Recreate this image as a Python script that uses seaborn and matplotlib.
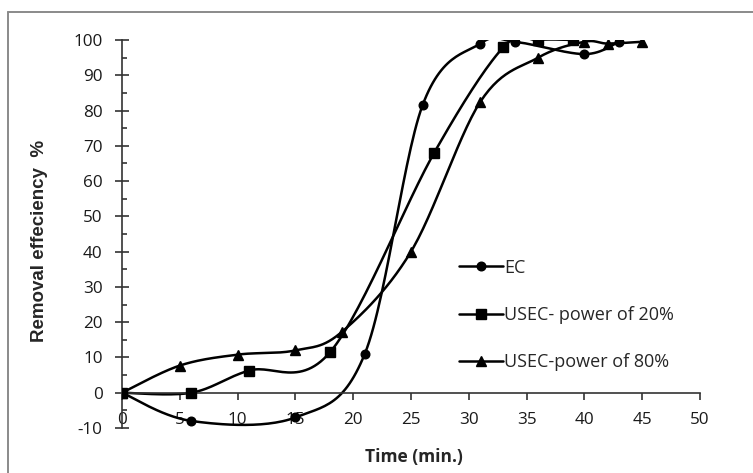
import numpy as np
import pandas as pd
import matplotlib
matplotlib.use("Agg")
import matplotlib.pyplot as plt
import seaborn as sns
from matplotlib.ticker import MultipleLocator
from matplotlib.lines import Line2D

# ---- data ----
ec_time = [0, 6, 15, 21, 26, 31, 34, 40, 43]
ec_removal = [0, -8, -7, 11, 81.5, 99, 99.5, 96, 99.5]

us20_time = [0, 6, 11, 18, 27, 33, 36, 39]
us20_removal = [0, 0, 6.3, 11.5, 68, 98, 100, 100]

us80_time = [0, 5, 10, 15, 19, 25, 31, 36, 40, 42, 45]
us80_removal = [0, 7.7, 10.8, 12, 17.2, 40, 82.5, 95, 99.5, 99, 99.5]

series_names = ["EC", "USEC- power of 20%", "USEC-power of 80%"]
series_markers = ["o", "s", "^"]
x_ticks = list(range(0, 55, 5))
y_ticks = list(range(-10, 110, 10))


def smooth(xs, ys, n=30):
    """Excel-like smoothed line (Catmull-Rom Bezier) through the points."""
    P = np.column_stack([xs, ys]).astype(float)
    out = [P[0]]
    m = len(P)
    for i in range(m - 1):
        p0 = P[i - 1] if i > 0 else P[i]
        p1 = P[i]
        p2 = P[i + 1]
        p3 = P[i + 2] if i + 2 < m else P[i + 1]
        c1 = p1 + (p2 - p0) / 6.0
        c2 = p2 - (p3 - p1) / 6.0
        t = np.linspace(0, 1, n)[1:, None]
        seg = ((1 - t) ** 3) * p1 + 3 * ((1 - t) ** 2) * t * c1 + 3 * (1 - t) * t ** 2 * c2 + t ** 3 * p2
        out.extend(seg)
    out = np.array(out)
    return out[:, 0], out[:, 1]


sns.set_style("white")
plt.rcParams["font.family"] = ["Open Sans", "DejaVu Sans"]
plt.rcParams["axes.unicode_minus"] = False

fig = plt.figure(figsize=(7.53, 4.73), dpi=100)
# outer frame (left and top edges visible)
fig.add_artist(Line2D([8 / 753, 8 / 753], [0, 1 - 12.5 / 473], transform=fig.transFigure,
                      color="#8a8a8a", lw=1.4))
fig.add_artist(Line2D([8 / 753, 1], [1 - 12.5 / 473, 1 - 12.5 / 473], transform=fig.transFigure,
                      color="#8a8a8a", lw=1.4))

ax = fig.add_axes([122 / 753, 1 - 428 / 473, (700 - 122) / 753, (428 - 40) / 473])

all_series = [(ec_time, ec_removal), (us20_time, us20_removal), (us80_time, us80_removal)]
marker_sizes = {"o": 6.2, "s": 6.8, "^": 6.8}
handles = []
for (xs, ys), name, mk in zip(all_series, series_names, series_markers):
    sx, sy = smooth(xs, ys)
    sns.lineplot(x=sx, y=sy, sort=False, estimator=None, color="black", lw=1.8, ax=ax)
    ms = marker_sizes[mk]
    ax.plot(xs, ys, linestyle="none", marker=mk, color="black", markersize=ms, zorder=3)
    handles.append(Line2D([0], [0], color="black", lw=1.8, marker=mk, markersize=ms))

ax.set_xlim(0, 50)
ax.set_ylim(-10, 100)
ax.set_xticks(x_ticks)
ax.set_yticks(y_ticks)
ax.yaxis.set_minor_locator(MultipleLocator(5))

for s in ["top", "right"]:
    ax.spines[s].set_visible(False)
ax.spines["bottom"].set_position(("data", 0))
for s in ["left", "bottom"]:
    ax.spines[s].set_color("#333333")
    ax.spines[s].set_linewidth(1.2)

ax.tick_params(axis="x", direction="out", length=5, width=1.2, color="#333333",
               labelsize=12.3, pad=9, bottom=True, labelcolor="#1a1a1a")
ax.tick_params(axis="y", which="major", direction="inout", length=10, width=1.2,
               color="#333333", labelsize=12.3, pad=9, left=True, labelcolor="#1a1a1a")
ax.tick_params(axis="y", which="minor", direction="in", length=3.6, width=1.2,
               color="#333333", left=True)

ax.set_xlabel("")
ax.set_ylabel("")
fig.text(414 / 753, 1 - 457 / 473, "Time (min.)", ha="center", va="center",
         fontsize=12.5, fontweight="bold")
fig.text(40 / 753, 1 - 241 / 473, "Removal effeciency  %", ha="center", va="center",
         rotation=90, fontsize=13.5, fontweight="bold",
         family=["Liberation Sans", "DejaVu Sans"])

fig.legend(handles, series_names, loc="center left",
           bbox_to_anchor=(459 / 753, 1 - 315 / 473), frameon=False,
           fontsize=13, handlelength=2.45, handletextpad=0.05, labelspacing=1.62,
           borderpad=0, borderaxespad=0)

fig.savefig("out.png", dpi=100)
